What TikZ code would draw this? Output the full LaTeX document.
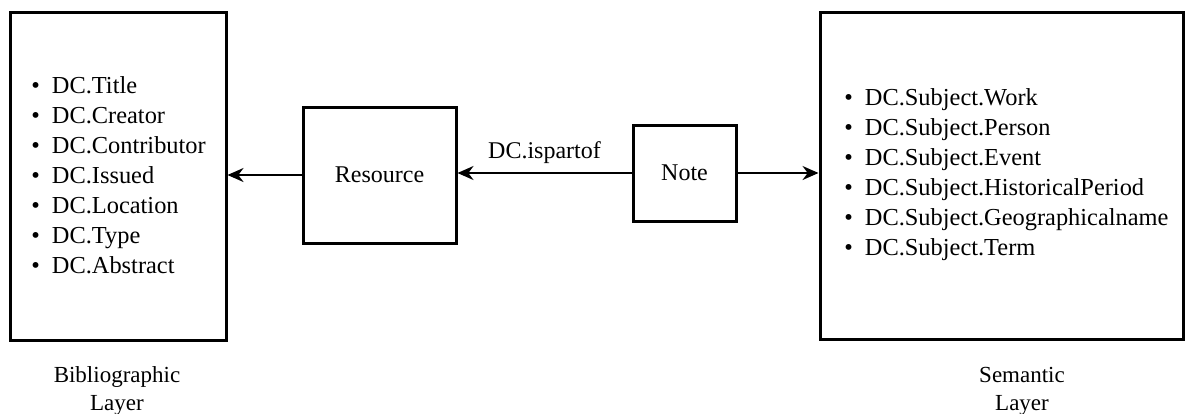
\documentclass[tikz,border=0pt]{standalone}
\usepackage{fontspec}
\setmainfont{Liberation Serif}
\usepackage{tikz}
\usetikzlibrary{arrows.meta,positioning}

\newcommand{\dcitem}{\textbullet\hspace{6pt}}

\begin{document}
\begin{tikzpicture}[x=0.5pt,y=-0.5pt,
    layerbox/.style={draw,line width=1.5pt,inner sep=0pt},
    itemlist/.style={align=left,inner sep=0pt,anchor=west,font=\fontsize{12.2}{15}\selectfont},
    caption/.style={align=center,inner sep=0pt,font=\fontsize{11.5}{14}\selectfont},
    link/.style={line width=1pt,-{Stealth[length=8pt,width=7pt]}}]
  \useasboundingbox (0,0) rectangle (1193,413);
  % boxes
  \node[layerbox,minimum width=108pt,minimum height=164pt] (bib) at (118,176) {};
  \node[layerbox,minimum width=76.5pt,minimum height=68pt,font=\fontsize{12}{15}\selectfont] (res) at (379.5,175) {Resource};
  \node[layerbox,minimum width=51.5pt,minimum height=48pt,font=\fontsize{12}{15}\selectfont] (note) at (684.5,173) {Note};
  \node[layerbox,minimum width=181.5pt,minimum height=163.5pt] (sem) at (1001.5,175.5) {};
  % element lists
  \node[itemlist] (biblist) at (31,175) {\dcitem DC.Title\\ \dcitem DC.Creator\\
    \dcitem DC.Contributor\\ \dcitem DC.Issued\\ \dcitem DC.Location\\
    \dcitem DC.Type\\ \dcitem DC.Abstract};
  \node[itemlist] (semlist) at (844,174.5) {\dcitem DC.Subject.Work\\ \dcitem DC.Subject.Person\\
    \dcitem DC.Subject.Event\\ \dcitem DC.Subject.HistoricalPeriod\\
    \dcitem DC.Subject.Geographicalname\\ \dcitem DC.Subject.Term};
  % layer names
  \node[caption] (bibname) at (117,391) {Bibliographic\\Layer};
  \node[caption] (semname) at (1022,391) {Semantic\\Layer};
  % relations
  \draw[link] (res.west) -- (res.west -| bib.east);
  \draw[link] (note.west) -- (note.west -| res.east)
    node[midway,above=1pt,font=\fontsize{12}{15}\selectfont] (ispartof) {DC.ispartof};
  \draw[link] (note.east) -- (note.east -| sem.west);
\end{tikzpicture}
\end{document}
